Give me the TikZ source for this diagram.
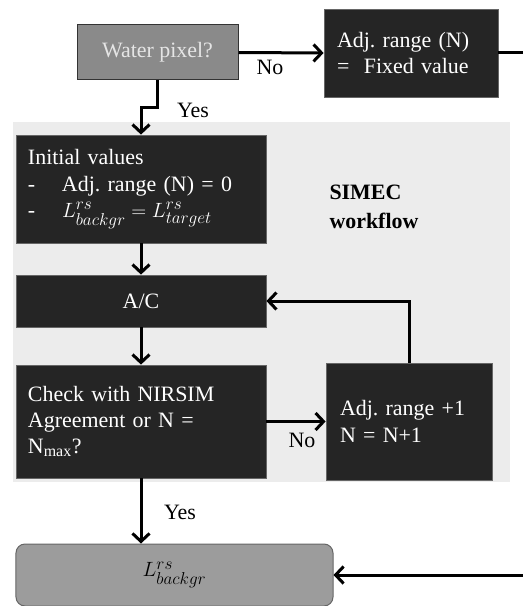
\documentclass[tikz,border=0pt]{standalone}
\usepackage{amsmath}
\usepackage{fontspec}
\setmainfont{Liberation Serif}
\usetikzlibrary{arrows.meta}
\DeclareMathSizes{22}{22}{16}{12}
\frenchspacing
\definecolor{boxdark}{HTML}{252525}
\definecolor{boxgray}{HTML}{8A8A8A}
\definecolor{endgray}{HTML}{9C9C9C}
\definecolor{simecbg}{HTML}{ECECEC}
\tikzset{
  darkbox/.style={draw=black!60, line width=0.8bp, fill=boxdark, text=white, align=left,
    inner sep=0pt, font=\fontsize{22}{26.5}\selectfont},
  flow/.style={line width=3bp, -{Straight Barb[length=8bp,width=17bp,line width=3bp]}},
  lbl/.style={font=\fontsize{22}{26}\selectfont, inner sep=0pt},
}

\begin{document}
\begin{tikzpicture}[x=1bp,y=-1bp]
  \useasboundingbox (0,0) rectangle (523,606);
  %\fill[white] (0,0) rectangle (523,606);
  \fill[simecbg] (13,122) rectangle (510,482);

  \node[draw=black!80, line width=1bp, fill=boxgray, text=white!90!black, minimum width=161bp, minimum height=55bp,
    font=\fontsize{22}{26}\selectfont] (water) at (157.5,52.5) {Water pixel?};
  \node[darkbox, minimum width=174bp, minimum height=88bp, text width=148bp] (adjN) at (411,53)
    {Adj. range (N)\\=\ \ Fixed value};

  \node[darkbox, minimum width=250bp, minimum height=108bp, text width=226bp] (init) at (141,189)
    {Initial values\\\makebox[34bp][l]{-}Adj. range (N) = 0\\
     \makebox[34bp][l]{-}$L^{rs}_{backgr}=L^{rs}_{target}$};
  \node[font=\fontsize{22}{29}\selectfont\bfseries, align=left, anchor=west] (simec) at (326,207) {SIMEC\\workflow};

  \node[darkbox, minimum width=250bp, minimum height=52bp, align=center] (ac) at (141,301) {A/C};
  \node[darkbox, minimum width=250bp, minimum height=113bp, text width=226bp] (check) at (141,421.5)
    {Check with NIRSIM\\Agreement or N =\\N$_{\text{max}}$?};
  \node[darkbox, minimum width=166bp, minimum height=117bp, text width=138bp] (adj1) at (409,421.5)
    {Adj. range +1\\N = N+1};

  \node[draw=black!60, line width=1bp, fill=endgray, rounded corners=9bp, minimum width=317bp, minimum height=62bp,
    font=\fontsize{22}{26}\selectfont] (back) at (174.5,575) {$L^{rs}_{backgr}$};

  \coordinate (rtop) at (530,53);
  \coordinate (rbot) at (530,575);

  \draw[flow] (water.east) -- (adjN.west);
  \node[lbl] (no1) at (270,67) {No};
  \draw[flow] (water.south) -- ++(0,27) -| (init.north);
  \node[lbl] (yes1) at (193,110) {Yes};
  \draw[flow] (init.south) -- (ac.north);
  \draw[flow] (ac.south) -- (check.north);
  \draw[flow] (check.east) -- (adj1.west);
  \node[lbl] (no2) at (302,440) {No};
  \draw[flow] (adj1.north) |- (ac.east);
  \draw[flow] (check.south) -- (check.south |- back.north);
  \node[lbl] (yes2) at (180,512) {Yes};
  \draw[flow] (adjN.east) -- (rtop) -- (rbot) -- (back.east);
\end{tikzpicture}
\end{document}
